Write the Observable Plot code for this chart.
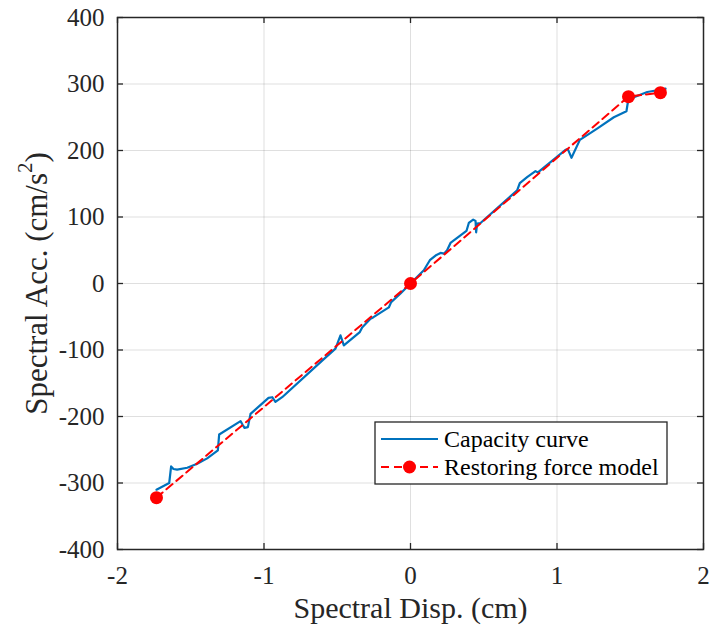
<!DOCTYPE html>
<html>
<head>
<meta charset="utf-8">
<script src="https://cdn.jsdelivr.net/npm/d3@7"></script>
<script src="https://cdn.jsdelivr.net/npm/@observablehq/plot@0.6"></script>
<style>
  html, body { margin: 0; padding: 0; background: #fff; }
  #chart svg { display: block; }
</style>
</head>
<body>
<div id="chart"></div>
<script>
// Capacity curve (spectral displacement in cm, spectral acceleration in cm/s^2)
const capDisp = [-1.734,-1.647,-1.634,-1.618,-1.593,-1.524,-1.456,-1.388,-1.315,-1.306,-1.160,-1.147,-1.133,-1.110,-1.092,-0.969,-0.944,-0.922,-0.876,-0.603,-0.512,-0.478,-0.455,-0.346,-0.330,-0.273,-0.255,-0.148,-0.132,-0.068,0,0.091,0.132,0.171,0.205,0.230,0.250,0.273,0.382,0.398,0.428,0.444,0.448,0.455,0.478,0.728,0.746,0.796,0.853,0.870,1.058,1.074,1.099,1.156,1.274,1.388,1.474,1.484,1.525,1.616,1.695,1.741];
const capAcc  = [-310,-300,-275,-279,-280,-277,-271,-263,-251,-227,-207,-212,-217,-216,-196,-172,-171,-178,-171,-116,-98,-78,-93,-73,-66,-53,-51,-36,-28,-15,0,20,35,42,46,45,50,61,79,91,96,94,77,90,91,140,151,160,169,167,201,202,189,216,233,250,259,273,280,288,291,293];

// Restoring force model key points
const modelDisp = [-1.734, 0, 1.488, 1.706];
const modelAcc  = [-322, 0, 281, 287];

// Axis ticks and labels
const xTicks = [-2, -1, 0, 1, 2];
const yTicks = [-400, -300, -200, -100, 0, 100, 200, 300, 400];
const xLabel = "Spectral Disp. (cm)";
const yLabelMain = "Spectral Acc. (cm/s";
const yLabelSup = "2";
const yLabelEnd = ")";
const legendNames = ["Capacity curve", "Restoring force model"];

const blue = "#0072BD";
const red = "#FF0000";
const ink = "#262626";
const font = "'Liberation Serif', 'Times New Roman', serif";

const capacity = capDisp.map((x, i) => ({x, y: capAcc[i]}));
const model = modelDisp.map((x, i) => ({x, y: modelAcc[i]}));

const W = 711, H = 629;
const mT = 17, mR = 8, mB = 80, mL = 117;
const innerW = W - mL - mR, innerH = H - mT - mB;
const tick = 6;

const chart = Plot.plot({
  width: W,
  height: H,
  marginTop: mT, marginRight: mR, marginBottom: mB, marginLeft: mL,
  style: {fontFamily: font, fontSize: "25px", color: ink, background: "#fff", overflow: "visible"},
  x: {domain: [-2, 2]},
  y: {domain: [-400, 400]},
  marks: [
    Plot.gridX(xTicks, {stroke: ink, strokeOpacity: 0.15, strokeWidth: 1}),
    Plot.gridY(yTicks, {stroke: ink, strokeOpacity: 0.15, strokeWidth: 1}),
    Plot.axisX(xTicks, {tickSize: 0, tickPadding: 17, tickFormat: d => String(d), fontSize: 25, label: null, fill: ink}),
    Plot.axisY(yTicks, {tickSize: 0, tickPadding: 13, tickFormat: d => String(d), fontSize: 25, label: null, fill: ink}),
    // inward ticks on all four sides
    Plot.ruleX(xTicks, {x: d => d, insetTop: innerH - tick, stroke: ink, strokeWidth: 1.3}),
    Plot.ruleX(xTicks, {x: d => d, insetBottom: innerH - tick, stroke: ink, strokeWidth: 1.3}),
    Plot.ruleY(yTicks, {y: d => d, insetRight: innerW - tick, stroke: ink, strokeWidth: 1.3}),
    Plot.ruleY(yTicks, {y: d => d, insetLeft: innerW - tick, stroke: ink, strokeWidth: 1.3}),
    Plot.line(capacity, {x: "x", y: "y", stroke: blue, strokeWidth: 2.2, strokeLinejoin: "round"}),
    Plot.line(model, {x: "x", y: "y", stroke: red, strokeWidth: 2, strokeDasharray: "8,5"}),
    Plot.dot(model, {x: "x", y: "y", r: 6.5, fill: red, stroke: null}),
    Plot.frame({stroke: ink, strokeWidth: 1.5}),
    Plot.text([xLabel], {frameAnchor: "bottom", dy: 59, fontSize: 30, lineAnchor: "middle", textAnchor: "middle", fill: ink}),
    Plot.text([yLabelMain + yLabelSup + yLabelEnd], {frameAnchor: "left", dx: -80, rotate: -90, fontSize: 31, lineAnchor: "middle", textAnchor: "middle", fill: ink})
  ]
});

document.getElementById("chart").appendChild(chart);

const svg = d3.select(chart);

// Superscript on the y-axis unit
svg.selectAll("text").filter(function() {
  return this.textContent === yLabelMain + yLabelSup + yLabelEnd;
}).each(function() {
  const t = d3.select(this);
  const holder = t.select("tspan").empty() ? t : t.select("tspan");
  holder.text(null);
  holder.append("tspan").text(yLabelMain);
  holder.append("tspan").attr("font-size", 21).attr("dy", "-0.75em").text(yLabelSup);
  holder.append("tspan").attr("dy", "0.5em").text(yLabelEnd);
});

// Legend box in the lower right of the axes
const lg = svg.append("g").attr("font-family", font).attr("font-size", 24)
  .attr("fill", "#000").attr("text-anchor", "start");
lg.append("rect").attr("x", 375).attr("y", 422).attr("width", 292).attr("height", 62)
  .attr("fill", "#fff").attr("stroke", ink).attr("stroke-width", 1.3);
lg.append("line").attr("x1", 381).attr("x2", 438).attr("y1", 439).attr("y2", 439)
  .attr("stroke", blue).attr("stroke-width", 2);
lg.append("line").attr("x1", 381).attr("x2", 438).attr("y1", 467).attr("y2", 467)
  .attr("stroke", red).attr("stroke-width", 2).attr("stroke-dasharray", "8,5");
lg.append("circle").attr("cx", 409.5).attr("cy", 467).attr("r", 6.5).attr("fill", red);
lg.append("text").attr("x", 444).attr("y", 447).text(legendNames[0]);
lg.append("text").attr("x", 444).attr("y", 475).text(legendNames[1]);
</script>
</body>
</html>
